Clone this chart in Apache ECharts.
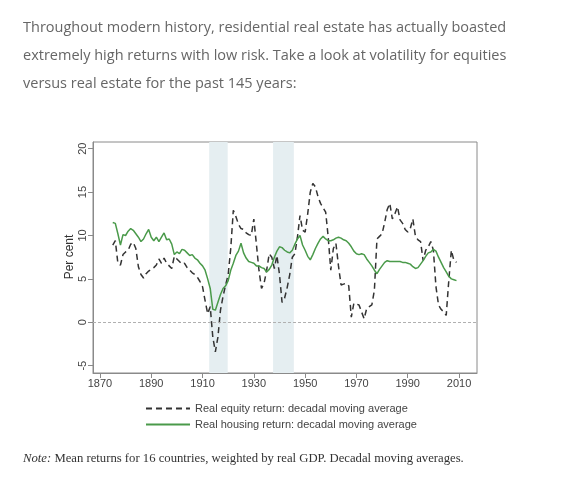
<!DOCTYPE html>
<html>
<head>
<meta charset="utf-8">
<script src="https://cdn.jsdelivr.net/npm/echarts@6/dist/echarts.min.js"></script>
<style>
  body { margin: 0; background: #fff; }
  #wrap { position: relative; width: 580px; height: 478px; overflow: hidden; }
  #intro { position: absolute; left: 23px; top: 13px; margin: 0; white-space: nowrap;
           font-family: "Open Sans", sans-serif; font-size: 14.5px; line-height: 28px; color: #666; }
  #chart { position: absolute; left: 0; top: 0; width: 580px; height: 478px; }
  #note { position: absolute; left: 23px; top: 451px; margin: 0;
          font-family: "Liberation Serif", "DejaVu Serif", serif; font-size: 12.7px; color: #333; }
</style>
</head>
<body>
<div id="wrap">
  <div id="chart"></div>
  <p id="intro">Throughout modern history, residential real estate has actually boasted<br>extremely high returns with low risk. Take a look at volatility for equities<br>versus real estate for the past 145 years:</p>
  <p id="note"><i>Note:</i> Mean returns for 16 countries, weighted by real GDP. Decadal moving averages.</p>
</div>
<script>
// years 1875..2009
var startYear = 1875;
var equity = [
  8.9, 9.4, 6.8, 6.6, 7.8, 8.1, 8.3, 9.0, 9.2, 8.5,
  6.4, 5.5, 5.1, 5.6, 5.9, 6.1, 6.3, 6.6, 7.3, 6.8,
  7.4, 6.8, 6.5, 6.2, 7.6, 7.3, 7.0, 6.7, 6.8, 6.3,
  6.0, 5.7, 5.5, 5.2, 4.7, 4.1, 2.5, 1.0, 1.8, -1.7,
  -3.4, -1.7, 1.4, 3.0, 4.3, 5.5, 8.5, 12.9, 12.2, 11.3,
  10.8, 10.7, 10.3, 10.1, 10.0, 11.9, 9.0, 6.0, 3.9, 4.5,
  6.0, 7.9, 7.5, 6.2, 7.7, 5.5, 2.3, 2.8, 4.0, 5.5,
  7.5, 7.9, 9.8, 12.3, 10.6, 10.4, 12.5, 15.0, 16.0, 15.6,
  14.5, 13.7, 13.2, 12.7, 9.8, 6.0, 8.5, 9.1, 6.5, 4.3,
  4.4, 4.5, 4.2, 0.6, 2.2, 2.1, 2.0, 1.2, 0.4, 1.6,
  1.8, 2.0, 3.7, 9.6, 9.9, 10.2, 11.5, 13.0, 13.7, 11.9,
  12.5, 13.3, 11.8, 11.4, 10.7, 10.4, 10.8, 11.9, 9.9, 9.5,
  9.3, 7.1, 8.3, 8.7, 9.3, 8.3, 4.1, 2.0, 1.5, 1.2,
  0.8, 4.8, 8.3, 7.1, 6.9
];
var housing = [
  11.5, 11.4, 10.2, 8.9, 10.1, 10.0, 10.5, 10.8, 10.6, 10.2,
  9.8, 9.3, 9.6, 10.2, 10.7, 9.8, 9.4, 9.8, 9.3, 9.8,
  10.3, 9.5, 9.6, 9.0, 7.8, 8.1, 7.9, 8.4, 8.3, 8.0,
  7.7, 7.8, 7.4, 7.2, 6.8, 6.5, 6.0, 5.0, 3.9, 1.5,
  1.4, 2.3, 3.2, 3.9, 4.2, 4.8, 6.0, 6.8, 7.7, 8.2,
  9.1, 8.0, 7.4, 7.0, 6.9, 6.8, 6.5, 6.5, 6.3, 6.2,
  5.8, 6.1, 6.6, 7.5, 8.2, 8.7, 8.6, 8.3, 8.1, 8.0,
  8.3, 9.0, 9.6, 10.0, 8.9, 8.3, 7.6, 7.2, 7.8, 8.5,
  9.1, 9.6, 9.9, 9.6, 9.4, 9.4, 9.5, 9.7, 9.8, 9.7,
  9.5, 9.4, 9.1, 8.7, 8.2, 7.9, 7.8, 7.9, 7.8, 7.3,
  6.9, 6.5, 6.0, 5.6, 6.1, 6.5, 6.9, 7.1, 7.0, 7.0,
  7.0, 7.0, 7.0, 6.9, 6.9, 6.8, 6.7, 6.4, 6.2, 6.3,
  6.7, 7.1, 7.6, 8.0, 8.1, 8.4, 8.2, 7.5, 6.9, 6.3,
  5.8, 5.3, 5.0, 4.9, 4.8
];
var xTicks = [1870, 1890, 1910, 1930, 1950, 1970, 1990, 2010];
var yTicks = [-5, 0, 5, 10, 15, 20];
var warBands = [[1912.6, 1919.8], [1937.5, 1945.6]];

function pairs(vals) {
  return vals.map(function (v, i) { return [startYear + i, v]; });
}

var axisGray = '#8a8a8a';
var labelFont = 'Liberation Sans, Arial, sans-serif';

var chart = echarts.init(document.getElementById('chart'));
chart.setOption({
  animation: false,
  grid: { left: 93, right: 103, top: 142, bottom: 105, show: true,
          borderColor: axisGray, borderWidth: 1, backgroundColor: 'transparent' },
  // y axis title, Stata style (sits just left of the tick labels)
  graphic: [{
    type: 'text', x: 70, y: 257, rotation: Math.PI / 2,
    style: { text: 'Per cent', fill: '#333', font: '12px ' + labelFont, align: 'center', verticalAlign: 'middle' }
  }],
  xAxis: {
    type: 'value', min: 1867.3, max: 2017.0,
    axisLine: { show: true, onZero: false, lineStyle: { color: axisGray } },
    axisTick: { show: true, length: 5, lineStyle: { color: axisGray }, customValues: xTicks },
    axisLabel: { customValues: xTicks, color: '#444', fontFamily: labelFont, fontSize: 11, margin: 5,
                 formatter: function (v) { return String(v); } },
    splitLine: { show: false }
  },
  yAxis: {
    type: 'value', min: -5.84, max: 20.77,
    axisLine: { show: true, onZero: false, lineStyle: { color: axisGray } },
    axisTick: { show: true, length: 5, lineStyle: { color: axisGray }, customValues: yTicks },
    axisLabel: { customValues: yTicks, rotate: 90, color: '#444', fontFamily: labelFont, fontSize: 11, margin: 5 },
    splitLine: { show: false }
  },
  legend: {
    orient: 'vertical', left: 140, top: 398, itemWidth: 44, itemHeight: 10, itemGap: 5,
    itemStyle: { opacity: 0 },
    textStyle: { color: '#444', fontFamily: labelFont, fontSize: 11 },
    data: ['Real equity return: decadal moving average', 'Real housing return: decadal moving average']
  },
  series: [
    {
      name: 'Real equity return: decadal moving average',
      type: 'line', data: pairs(equity), symbol: 'none', z: 3,
      lineStyle: { color: '#333', width: 1.5, type: [6, 4] },
      itemStyle: { color: '#333' },
      markArea: {
        silent: true,
        itemStyle: { color: '#e5eef1' },
        data: warBands.map(function (b) { return [{ xAxis: b[0] }, { xAxis: b[1] }]; })
      },
      markLine: {
        silent: true, symbol: 'none', label: { show: false },
        lineStyle: { color: '#b0b0b0', type: [3, 2], width: 1 },
        data: [{ yAxis: 0 }]
      }
    },
    {
      name: 'Real housing return: decadal moving average',
      type: 'line', data: pairs(housing), symbol: 'none', z: 4,
      lineStyle: { color: '#4a9a4a', width: 1.5 },
      itemStyle: { color: '#4a9a4a' }
    }
  ]
});
</script>
</body>
</html>
